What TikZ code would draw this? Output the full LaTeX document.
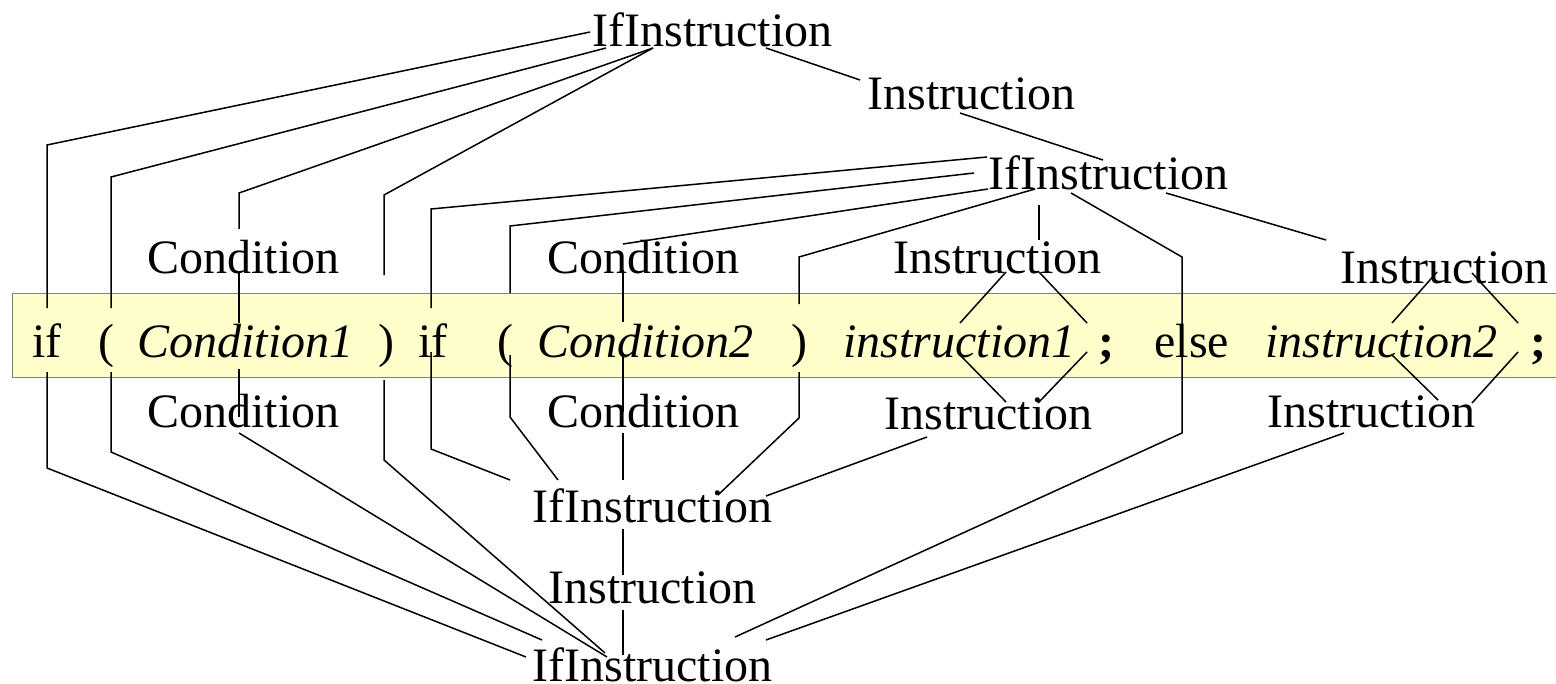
\documentclass[tikz,border=0pt]{standalone}
\usepackage{fontspec}
\setmainfont{Liberation Serif}
\definecolor{bandyellow}{HTML}{FFFFCC}
\definecolor{bandedge}{HTML}{808080}
\begin{document}
\begin{tikzpicture}[x=0.5pt,y=-0.5pt,
  lbl/.style={inner sep=0pt, anchor=base west, font=\fontsize{24}{28}\selectfont},
  itl/.style={inner sep=0pt, anchor=base west, font=\fontsize{24}{28}\selectfont\itshape},
  bld/.style={inner sep=0pt, anchor=base west, font=\fontsize{24}{28}\selectfont\bfseries},
  conn/.style={line width=0.75pt, line join=miter}]
\useasboundingbox (0,0) rectangle (1556,684);
\fill[white] (0,0) rectangle (1556,684);
% band
\draw[fill=bandyellow, draw=bandedge, line width=0.6pt] (12.3,293.5) rectangle (1575,377.7);
% sentence
\node[lbl] (if1) at (32,357) {if};
\node[lbl] (lp1) at (98,357) {(};
\node[itl] (c1) at (137,357) {Condition1};
\node[lbl] (rp1) at (378,357) {)};
\node[lbl] (if2) at (418,357) {if};
\node[lbl] (lp2) at (497,357) {(};
\node[itl] (c2) at (537,357) {Condition2};
\node[lbl] (rp2) at (791,357) {)};
\node[itl] (i1) at (843,357) {instruction1};
\node[bld] (sc1) at (1098,357) {;};
\node[lbl] (else) at (1154,357) {else};
\node[itl] (i2) at (1265,357) {instruction2};
\node[bld] (sc2) at (1530,357) {;};
% upper tree labels
\node[lbl] (T1) at (592,47) {IfInstruction};
\node[lbl] (TI) at (867,110) {Instruction};
\node[lbl] (T2) at (988,190) {IfInstruction};
\node[lbl] (TC1) at (147,273) {Condition};
\node[lbl] (TC2) at (547,273) {Condition};
\node[lbl] (TIm) at (893,273) {Instruction};
\node[lbl] (TIr) at (1340,283) {Instruction};
% lower tree labels
\node[lbl] (BC1) at (147,427) {Condition};
\node[lbl] (BC2) at (547,427) {Condition};
\node[lbl] (BIm) at (884,429) {Instruction};
\node[lbl] (BIr) at (1267,427) {Instruction};
\node[lbl] (B2) at (532,522) {IfInstruction};
\node[lbl] (BI) at (548,603) {Instruction};
\node[lbl] (B1) at (532,681) {IfInstruction};
% upper connectors
\draw[conn] (590,32) -- (47,145) -- (47,308);
\draw[conn] (606,48) -- (111,177) -- (111,308);
\draw[conn] (653,48) -- (239,193) -- (239,229);
\draw[conn] (239,273) -- (239,323);
\draw[conn] (653,48) -- (384,195) -- (384,275);
\draw[conn] (766,48) -- (860,80);
\draw[conn] (960,113) -- (1103,160);
\draw[conn] (987,157) -- (431,209) -- (431,308);
\draw[conn] (974,173) -- (510,226) -- (510,293);
\draw[conn] (988,189) -- (623,244);
\draw[conn] (623,270) -- (623,322);
\draw[conn] (1035,189) -- (799,257) -- (799,304);
\draw[conn] (1039,205) -- (1039,240);
\draw[conn] (1071,193) -- (1182,257) -- (1182,378);
\draw[conn] (1166,193) -- (1326,240);
\draw[conn] (1006,272) -- (960,323);
\draw[conn] (1039,272) -- (1087,323);
\draw[conn] (1437,272) -- (1392,323);
\draw[conn] (1472,273) -- (1518,323);
% lower connectors
\draw[conn] (960,355) -- (1006,402);
\draw[conn] (1087,352) -- (1038,403);
\draw[conn] (1392,355) -- (1438,400);
\draw[conn] (1518,352) -- (1472,403);
\draw[conn] (927,437) -- (766,496);
\draw[conn] (431,352) -- (431,449) -- (510,480);
\draw[conn] (510,355) -- (510,417) -- (558,480);
\draw[conn] (623,353) -- (623,412);
\draw[conn] (623,433) -- (623,480);
\draw[conn] (799,372) -- (799,418) -- (718,495);
\draw[conn] (623,529) -- (623,575);
\draw[conn] (623,610) -- (623,655);
\draw[conn] (47,372) -- (47,468) -- (526,657);
\draw[conn] (111,372) -- (111,452) -- (542,640);
\draw[conn] (239,369) -- (239,417);
\draw[conn] (239,433) -- (607,657);
\draw[conn] (384,380) -- (384,460) -- (605,653);
\draw[conn] (1182,378) -- (1182,433) -- (735,637);
\draw[conn] (1344,433) -- (766,640);
\end{tikzpicture}
\end{document}
